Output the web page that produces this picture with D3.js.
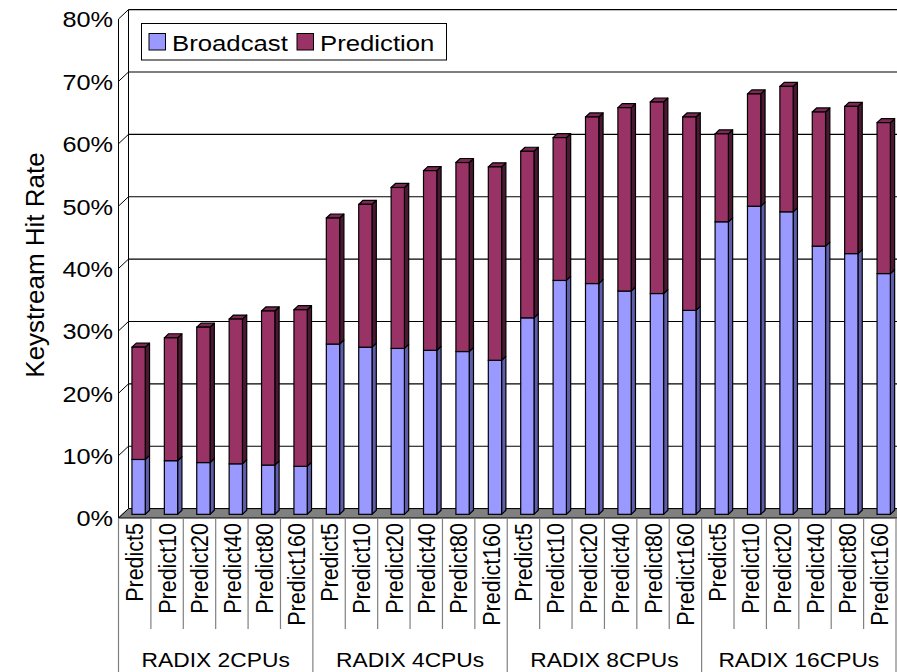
<!DOCTYPE html>
<html>
<head>
<meta charset="utf-8">
<script src="https://cdn.jsdelivr.net/npm/d3@7"></script>
<style>
  html, body { margin: 0; padding: 0; background: #fff; }
  svg { display: block; font-family: "Liberation Sans", Arial, sans-serif; }
</style>
</head>
<body>
<svg id="chart" width="897" height="672"></svg>
<script>
// Category labels (inner level) and configuration groups (outer level)
const predictors = ["Predict5", "Predict10", "Predict20", "Predict40", "Predict80", "Predict160"];
const configs = ["RADIX 2CPUs", "RADIX 4CPUs", "RADIX 8CPUs", "RADIX 16CPUs"];

// Hit rates in percent, one entry per (config, predictor), in reading order
const broadcast = [
  8.8, 8.6, 8.3, 8.1, 7.9, 7.7,
  27.3, 26.8, 26.6, 26.3, 26.1, 24.7,
  31.5, 37.5, 37.0, 35.8, 35.4, 32.7,
  46.9, 49.4, 48.5, 43.0, 41.8, 38.6
];
const prediction = [
  18.0, 19.7, 21.7, 23.2, 24.7, 25.1,
  20.2, 22.9, 25.8, 28.8, 30.3, 31.0,
  26.7, 22.9, 26.7, 29.4, 30.7, 31.0,
  14.1, 18.0, 20.1, 21.5, 23.6, 24.2
];
const yTicks = [0, 10, 20, 30, 40, 50, 60, 70, 80];
const seriesNames = ["Broadcast", "Prediction"];

const svg = d3.select("#chart");

// Front plane geometry plus a small oblique depth for the 3D look
const x0 = 118.5, x1 = 896;
const DX = 10, DY = -9.4;          // full floor depth
const F1 = 0.39, F2 = 0.82;        // bar front / back depth fractions
const SX = 1.15;                   // horizontal glyph stretch

const keys = [];
configs.forEach((c, gi) => predictors.forEach((p, pi) => keys.push(gi + "|" + pi)));

const xCat = d3.scaleBand().domain(keys).range([x0, x1]).padding(0);
const xBar = d3.scaleBand().domain(keys).range([x0, x1]).paddingInner(0.59).paddingOuter(0.295);
const y = d3.scaleLinear().domain([0, 80]).range([518, 19]);

const colors = {
  Broadcast: { front: "#9999ff", side: "#5d5dab", top: "#8080dd" },
  Prediction: { front: "#993366", side: "#4b1832", top: "#7d2953" }
};

// ---- Walls and gridlines ----
const walls = svg.append("g");
// back wall gridlines
walls.selectAll("line.grid").data(yTicks).join("line")
  .attr("x1", x0 + DX).attr("x2", 897)
  .attr("y1", d => y(d) + DY).attr("y2", d => y(d) + DY)
  .attr("stroke", "#000").attr("stroke-width", 1.2);
// side wall gridlines
walls.selectAll("line.side").data(yTicks).join("line")
  .attr("x1", x0).attr("x2", x0 + DX)
  .attr("y1", d => y(d)).attr("y2", d => y(d) + DY)
  .attr("stroke", "#000").attr("stroke-width", 1);
// wall edges
walls.append("line").attr("x1", x0 + DX).attr("x2", x0 + DX)
  .attr("y1", y(80) + DY).attr("y2", y(0) + DY).attr("stroke", "#000");
walls.append("line").attr("x1", x0).attr("x2", x0)
  .attr("y1", y(80)).attr("y2", y(0)).attr("stroke", "#000");

// floor
walls.append("path")
  .attr("d", `M${x0},${y(0)} L${x0 + DX},${y(0) + DY} L${897 + DX},${y(0) + DY} L${897},${y(0)} Z`)
  .attr("fill", "#808080").attr("stroke", "#000").attr("stroke-width", 1);

// ---- Stacked 3D bars ----
const stackData = keys.map((k, i) => ({ key: k, Broadcast: broadcast[i], Prediction: prediction[i] }));
const stacked = d3.stack().keys(seriesNames)(stackData);

const bars = svg.append("g");
const bw = xBar.bandwidth();
const fx = F1 * DX, fy = F1 * DY, ddx = (F2 - F1) * DX, ddy = (F2 - F1) * DY;

stacked.forEach((layer, li) => {
  const c = colors[layer.key];
  layer.forEach((seg, i) => {
    const isTop = li === stacked.length - 1;
    const left = xBar(seg.data.key) + fx;
    const right = left + bw;
    const yb = y(seg[0]) + fy, yt = y(seg[1]) + fy;
    const g = bars.append("g");
    // right side face
    g.append("path")
      .attr("d", `M${right},${yb} L${right + ddx},${yb + ddy} L${right + ddx},${yt + ddy} L${right},${yt} Z`)
      .attr("fill", c.side).attr("stroke", "#000").attr("stroke-width", 1.2).attr("stroke-linejoin", "round");
    // top face
    if (isTop) {
      g.append("path")
        .attr("d", `M${left},${yt} L${left + ddx},${yt + ddy} L${right + ddx},${yt + ddy} L${right},${yt} Z`)
        .attr("fill", c.top).attr("stroke", "#000").attr("stroke-width", 1.2).attr("stroke-linejoin", "round");
    }
    // front face
    g.append("rect")
      .attr("x", left).attr("y", yt).attr("width", bw).attr("height", yb - yt)
      .attr("fill", c.front).attr("stroke", "#000").attr("stroke-width", 1.2);
  });
});

// ---- Value axis labels ----
const yAxis = svg.append("g").attr("transform", `translate(113,0)`)
  .call(d3.axisLeft(y).tickValues(yTicks).tickSize(0).tickPadding(0).tickFormat(d => d + "%"));
yAxis.select(".domain").remove();
yAxis.selectAll("text")
  .attr("x", 0).attr("dy", "0.36em")
  .attr("transform", `scale(${SX},1)`)
  .style("font-size", "22px").style("font-family", "Liberation Sans, Arial, sans-serif")
  .attr("fill", "#000");

svg.append("text")
  .attr("transform", `translate(35,265) rotate(-90)`)
  .attr("text-anchor", "middle").attr("dy", "0.35em")
  .style("font-size", "26px").attr("fill", "#000")
  .text("Keystream Hit Rate");

// ---- Two-level category axis ----
const cat = svg.append("g");
keys.forEach((k, i) => {
  const pi = i % predictors.length;
  const xl = xCat(k);
  const isGroupEdge = pi === 0;
  cat.append("line")
    .attr("x1", xl).attr("x2", xl)
    .attr("y1", y(0)).attr("y2", isGroupEdge ? 672 : 629)
    .attr("stroke", "#808080").attr("stroke-width", 1.2);
  cat.append("text")
    .attr("transform", `translate(${xl + xCat.bandwidth() / 2},523) scale(${SX},1) rotate(-90)`)
    .attr("text-anchor", "end").attr("dy", "0.35em")
    .style("font-size", "21.5px").attr("fill", "#000")
    .text(predictors[pi]);
});
cat.append("line").attr("x1", x1).attr("x2", x1).attr("y1", y(0)).attr("y2", 672)
  .attr("stroke", "#808080").attr("stroke-width", 1.2);

configs.forEach((c, gi) => {
  const a = xCat(gi + "|0"), b = xCat(gi + "|" + (predictors.length - 1)) + xCat.bandwidth();
  cat.append("text")
    .attr("transform", `translate(${(a + b) / 2},666.5) scale(1.14,1)`)
    .attr("text-anchor", "middle")
    .style("font-size", "20px").attr("fill", "#000")
    .text(c);
});

// ---- Legend ----
const legend = svg.append("g");
legend.append("rect").attr("x", 141.5).attr("y", 23.5).attr("width", 305).attr("height", 36.5)
  .attr("fill", "#fff").attr("stroke", "#000").attr("stroke-width", 1);
const legendX = [149, 297];
seriesNames.forEach((s, i) => {
  legend.append("rect").attr("x", legendX[i]).attr("y", 33.5).attr("width", 16.5).attr("height", 16.5)
    .attr("fill", colors[s].front).attr("stroke", "#000").attr("stroke-width", 1);
  legend.append("text")
    .attr("transform", `translate(${legendX[i] + 23},50.5) scale(1.17,1)`)
    .style("font-size", "22px").attr("fill", "#000")
    .text(s);
});
</script>
</body>
</html>
